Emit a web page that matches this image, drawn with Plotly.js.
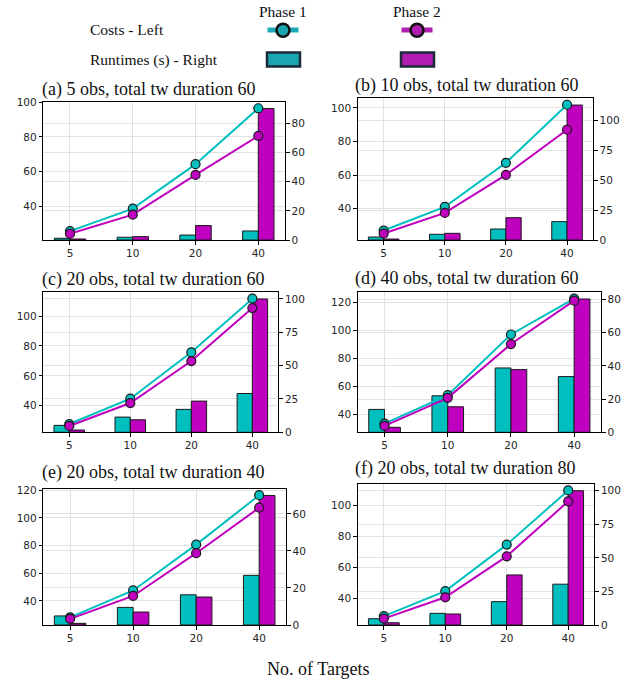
<!DOCTYPE html>
<html>
<head>
<meta charset="utf-8">
<script src="https://cdn.plot.ly/plotly-3.0.1.min.js"></script>
<style>html,body{margin:0;padding:0;background:#fff;}#chart{width:637px;height:685px;}</style>
</head>
<body>
<div id="chart"></div>
<script>
// ---------- data ----------
const targets = ['5', '10', '20', '40'];
const panelTitles = [
  '(a) 5 obs, total tw duration 60',
  '(b) 10 obs, total tw duration 60',
  '(c) 20 obs, total tw duration 60',
  '(d) 40 obs, total tw duration 60',
  '(e) 20 obs, total tw duration 40',
  '(f) 20 obs, total tw duration 80'
];
// Costs (left axis)
const costPhase1A = [25.7, 38.7, 64.3, 96.5];
const costPhase2A = [24.2, 35.2, 58.1, 80.6];
const costPhase1B = [26.9, 41.0, 67.3, 101.9];
const costPhase2B = [25.1, 37.4, 60.1, 87.0];
const costPhase1C = [27.8, 44.7, 75.7, 111.6];
const costPhase2C = [26.5, 41.8, 69.9, 105.3];
const costPhase1D = [33.6, 53.9, 97.1, 122.6];
const costPhase2D = [32.0, 52.0, 90.3, 121.2];
const costPhase1E = [28.1, 47.6, 80.7, 116.4];
const costPhase2E = [27.1, 43.6, 74.5, 107.4];
const costPhase1F = [28.3, 44.5, 74.6, 109.7];
const costPhase2F = [26.7, 40.5, 67.0, 102.6];
// Runtimes in seconds (right axis)
const runPhase1A = [1.2, 1.9, 3.4, 6.2];
const runPhase2A = [0.7, 2.3, 9.9, 90.1];
const runPhase1B = [2.5, 4.8, 9.2, 15.4];
const runPhase2B = [0.8, 5.6, 18.7, 113.2];
const runPhase1C = [5.2, 11.4, 17.2, 29.1];
const runPhase2C = [1.7, 9.4, 23.4, 100.0];
const runPhase1D = [13.8, 22.0, 38.8, 33.6];
const runPhase2D = [3.0, 15.4, 37.8, 80.4];
const runPhase1E = [4.9, 9.5, 16.3, 26.8];
const runPhase2E = [0.9, 7.0, 15.1, 69.9];
const runPhase1F = [4.7, 8.7, 17.4, 30.4];
const runPhase2F = [1.7, 8.2, 37.3, 100.0];

const costs1 = [costPhase1A, costPhase1B, costPhase1C, costPhase1D, costPhase1E, costPhase1F];
const costs2 = [costPhase2A, costPhase2B, costPhase2C, costPhase2D, costPhase2E, costPhase2F];
const runs1 = [runPhase1A, runPhase1B, runPhase1C, runPhase1D, runPhase1E, runPhase1F];
const runs2 = [runPhase2A, runPhase2B, runPhase2C, runPhase2D, runPhase2E, runPhase2F];

// ---------- layout geometry (pixels) ----------
const W = 637, H = 685;
const X = p => p / W;
const Y = p => 1 - p / H;
const boxes = [
  {x0: 43.3, x1: 285, y0: 102, y1: 240, title: [40, 89.7]},
  {x0: 357.7, x1: 593, y0: 98.3, y1: 240, title: [352.5, 85.8]},
  {x0: 43.3, x1: 278.3, y0: 292.3, y1: 432.3, title: [40, 279.3]},
  {x0: 357.7, x1: 601, y0: 292.3, y1: 432.3, title: [352.5, 278.8]},
  {x0: 43.3, x1: 286, y0: 489, y1: 625, title: [40, 473]},
  {x0: 357.7, x1: 594.3, y0: 484, y1: 625, title: [353, 468.8]}
];
const rightDtick = [20, 25, 25, 20, 20, 25];

const CYAN = '#00BFBF', MAG = '#BF00BF';
const tickFont = {family: 'DejaVu Sans', size: 10.5, color: '#262626'};
const serif = 'Liberation Serif';
const GRID = '#e2e2e2';

const data = [];
const layout = {
  width: W, height: H,
  margin: {l: 0, r: 0, t: 0, b: 0},
  paper_bgcolor: '#fff', plot_bgcolor: '#fff',
  showlegend: false,
  barmode: 'overlay',
  annotations: [], shapes: []
};

function mplRange(arrs) {
  const all = [].concat(...arrs);
  const lo = Math.min(...all), hi = Math.max(...all);
  const pad = 0.05 * (hi - lo);
  return [lo - pad, hi + pad];
}

boxes.forEach((b, i) => {
  const xs = i === 0 ? '' : String(i + 1);
  const yb = String(2 * i + 1), yl = String(2 * i + 2);
  const xName = 'x' + xs, ybName = 'y' + (yb === '1' ? '' : yb), ylName = 'y' + yl;
  const xKey = 'xaxis' + xs, ybKey = 'yaxis' + (yb === '1' ? '' : yb), ylKey = 'yaxis' + yl;

  layout[xKey] = {
    domain: [X(b.x0), X(b.x1)], anchor: ybName, type: 'category',
    range: [-0.425, 3.425], showline: true, mirror: true, linecolor: '#000', linewidth: 1,
    ticks: 'outside', ticklen: 3.5, tickwidth: 1, tickcolor: '#000', tickfont: tickFont,
    showgrid: true, gridcolor: GRID, gridwidth: 1, zeroline: false, fixedrange: true
  };
  const rMax = Math.max(...runs1[i], ...runs2[i]) * 1.05;
  layout[ybKey] = {
    domain: [Y(b.y1), Y(b.y0)], anchor: xName, side: 'right',
    range: [0, rMax], tickmode: 'linear', tick0: 0, dtick: rightDtick[i],
    showline: true, linecolor: '#000', linewidth: 1,
    ticks: 'outside', ticklen: 3.5, tickwidth: 1, tickcolor: '#000', tickfont: tickFont,
    showgrid: true, gridcolor: GRID, gridwidth: 1, zeroline: false, fixedrange: true
  };
  layout[ylKey] = {
    overlaying: ybName, anchor: xName, side: 'left',
    range: mplRange([costs1[i], costs2[i]]), tickmode: 'linear', tick0: 0, dtick: 20,
    showline: true, linecolor: '#000', linewidth: 1,
    ticks: 'outside', ticklen: 3.5, tickwidth: 1, tickcolor: '#000', tickfont: tickFont,
    showgrid: true, gridcolor: GRID, gridwidth: 1, zeroline: false, fixedrange: true
  };

  data.push({
    type: 'bar', x: targets, y: runs1[i], xaxis: xName, yaxis: ybName,
    width: 0.25, offset: -0.25, marker: {color: CYAN, line: {color: '#1a1a1a', width: 1}}
  });
  data.push({
    type: 'bar', x: targets, y: runs2[i], xaxis: xName, yaxis: ybName,
    width: 0.25, offset: 0, marker: {color: MAG, line: {color: '#1a1a1a', width: 1}}
  });
  data.push({
    type: 'scatter', mode: 'lines+markers', x: targets, y: costs1[i], xaxis: xName, yaxis: ylName,
    line: {color: CYAN, width: 2}, marker: {size: 9, color: CYAN, line: {color: '#1a1a1a', width: 1.2}}
  });
  data.push({
    type: 'scatter', mode: 'lines+markers', x: targets, y: costs2[i], xaxis: xName, yaxis: ylName,
    line: {color: MAG, width: 2}, marker: {size: 9, color: MAG, line: {color: '#1a1a1a', width: 1.2}}
  });

  layout.annotations.push({
    xref: 'paper', yref: 'paper', x: X(b.title[0]), y: Y(b.title[1]),
    xanchor: 'left', yanchor: 'middle', showarrow: false, text: panelTitles[i],
    font: {family: serif, size: 18, color: '#111'}
  });
});

// Global x-axis label
layout.annotations.push({
  xref: 'paper', yref: 'paper', x: X(318), y: Y(668.5), xanchor: 'center', yanchor: 'middle',
  showarrow: false, text: 'No. of Targets', font: {family: serif, size: 18, color: '#111'}
});

// Custom legend
const legFont = {family: serif, size: 15.5, color: '#111'};
[['Phase 1', 283], ['Phase 2', 417]].forEach(([t, cx]) => {
  layout.annotations.push({xref: 'paper', yref: 'paper', x: X(cx), y: Y(12), xanchor: 'center', yanchor: 'middle',
    showarrow: false, text: t, font: legFont});
});
layout.annotations.push({xref: 'paper', yref: 'paper', x: X(88), y: Y(29.5), xanchor: 'left', yanchor: 'middle',
  showarrow: false, text: 'Costs - Left', font: legFont});
layout.annotations.push({xref: 'paper', yref: 'paper', x: X(88), y: Y(60), xanchor: 'left', yanchor: 'middle',
  showarrow: false, text: 'Runtimes (s) - Right', font: legFont});

const legCols = [['#1ea8b4', '#1aa6b0', 283], ['#b01fb0', '#b01bb0', 417]];
legCols.forEach(([lc, fc, cx]) => {
  layout.shapes.push({type: 'line', xref: 'paper', yref: 'paper', x0: X(cx - 15.5), x1: X(cx + 15.5), y0: Y(30), y1: Y(30),
    line: {color: lc, width: 5}});
  layout.shapes.push({type: 'circle', xref: 'paper', yref: 'paper', x0: X(cx - 6.5), x1: X(cx + 6.5), y0: Y(36.7), y1: Y(23.7),
    fillcolor: fc, line: {color: '#111', width: 2.5}});
  layout.shapes.push({type: 'rect', xref: 'paper', yref: 'paper', x0: X(cx - 16), x1: X(cx + 17), y0: Y(66.5), y1: Y(52.5),
    fillcolor: fc, line: {color: '#1b2a38', width: 2.5}});
});

Plotly.newPlot('chart', data, layout, {displayModeBar: false, staticPlot: true});
</script>
</body>
</html>
